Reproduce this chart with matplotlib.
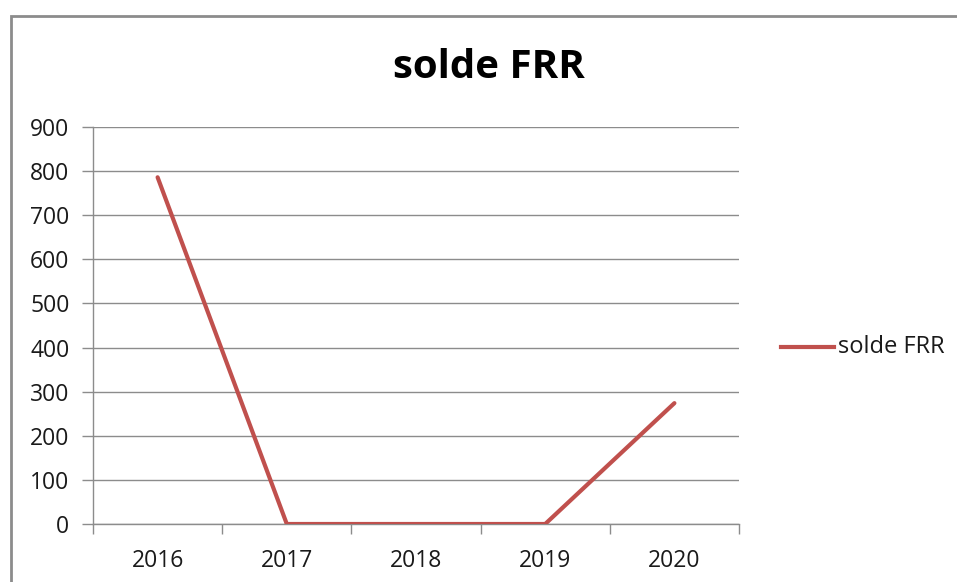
import matplotlib
matplotlib.use("Agg")
import matplotlib.pyplot as plt
from matplotlib.patches import Rectangle
from matplotlib.lines import Line2D

years = ["2016", "2017", "2018", "2019", "2020"]
solde_frr = [786, 0, 0, 0, 274]
yticks = [0, 100, 200, 300, 400, 500, 600, 700, 800, 900]

W, H = 957, 582
fig = plt.figure(figsize=(W / 100, H / 100), dpi=100)
fig.patch.set_facecolor("white")
plt.rcParams['font.family'] = ['Open Sans', 'DejaVu Sans']

# outer chart border (extends past the image at right and bottom)
fig.patches.append(Rectangle((10.5 / W, -0.05), 1.2, 1 - 15.5 / H + 0.05,
                             transform=fig.transFigure, fill=False,
                             edgecolor="#8c8c8c", linewidth=2, zorder=0))

ax = fig.add_axes([93 / W, 1 - 524 / H, (739 - 93) / W, (524 - 127) / H])
x = list(range(len(years)))
ax.plot(x, solde_frr, color="#C0504D", linewidth=3.0, solid_capstyle="round",
        solid_joinstyle="miter", zorder=3, label="solde FRR")

ax.set_xlim(-0.5, len(years) - 0.5)
ax.set_ylim(0, 900)
ax.set_yticks(yticks)
ax.set_yticklabels([str(v) for v in yticks], fontsize=16.5, color="#1a1a1a")
ax.yaxis.grid(True, color="#8c8c8c", linewidth=1)
ax.set_axisbelow(True)

ax.set_xticks([i - 0.5 for i in range(len(years) + 1)])
ax.set_xticklabels([])
ax.set_xticks(x, minor=True)
ax.set_xticklabels(years, minor=True, fontsize=16.5, color="#1a1a1a")
ax.tick_params(axis="x", which="major", length=7, color="#8c8c8c", width=1, direction="out")
ax.tick_params(axis="x", which="minor", length=0, pad=18)
ax.tick_params(axis="y", length=8, color="#8c8c8c", width=1, direction="out", pad=9)

for s in ["top", "right"]:
    ax.spines[s].set_visible(False)
for s in ["left", "bottom"]:
    ax.spines[s].set_color("#8c8c8c")
    ax.spines[s].set_linewidth(1)

fig.text(489 / W, 1 - 68 / H, "solde FRR", ha="center", va="center",
         fontsize=29, fontweight="bold", color="black")

# legend
fig.lines.append(Line2D([781 / W, 834 / W], [1 - 347 / H, 1 - 347 / H],
                        transform=fig.transFigure, color="#C0504D", linewidth=3.0))
fig.text(838 / W, 1 - 347 / H, "solde FRR", ha="left", va="center",
         fontsize=17, color="#1a1a1a")

fig.savefig("out.png", dpi=100)
